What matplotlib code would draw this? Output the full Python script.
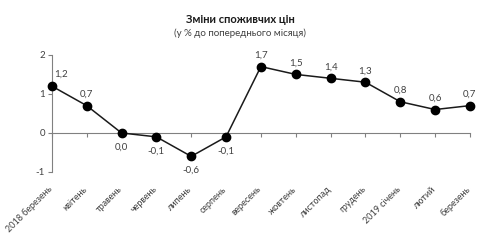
import matplotlib.pyplot as plt
from matplotlib.transforms import ScaledTranslation

months = ['2018 березень', 'квітень', 'травень', 'червень', 'липень', 'серпень',
          'вересень', 'жовтень', 'листопад', 'грудень', '2019 січень', 'лютий', 'березень']
values = [1.2, 0.7, 0.0, -0.1, -0.6, -0.1, 1.7, 1.5, 1.4, 1.3, 0.8, 0.6, 0.7]
labels = ['1,2', '0,7', '0,0', '-0,1', '-0,6', '-0,1', '1,7', '1,5', '1,4', '1,3', '0,8', '0,6', '0,7']
below = [False, False, True, True, True, True, False, False, False, False, False, False, False]

plt.rcParams['font.family'] = ['Lato', 'DejaVu Sans']
txt = '#404040'

fig = plt.figure(figsize=(4.8, 2.45), dpi=100)
ax = fig.add_axes([0.108, 0.298, 0.871, 0.478])

x = list(range(len(months)))
ax.plot(x, values, color='#1a1a1a', lw=1.1, marker='o', ms=6,
        markerfacecolor='black', markeredgecolor='black', clip_on=False, zorder=3)

for xi, v, lab, b in zip(x, values, labels, below):
    if b:
        ax.annotate(lab, (xi, v), xytext=(0, -7), textcoords='offset points',
                    ha='center', va='top', fontsize=7, color=txt)
    else:
        ax.annotate(lab, (xi, v), xytext=(2 if xi == 0 else 0, 5), textcoords='offset points',
                    ha='left' if xi == 0 else 'center', va='bottom', fontsize=7, color=txt)

ax.set_xlim(0, 12)
ax.set_ylim(-1, 2)
ax.set_yticks([-1, 0, 1, 2])
ax.set_yticklabels(['-1', '0', '1', '2'])
ax.tick_params(axis='y', direction='out', length=3, width=0.8, colors='#808080',
               labelcolor=txt, labelsize=7, pad=2)

for s in ['top', 'right', 'bottom']:
    ax.spines[s].set_visible(False)
ax.spines['left'].set_color('#808080')
ax.spines['left'].set_linewidth(0.8)

ax.set_xticks(x)
ax.set_xticklabels(months, rotation=45, ha='right', rotation_mode='anchor',
                   fontsize=6.5, color=txt)
ax.tick_params(axis='x', length=0, pad=4)
shift = ScaledTranslation(-4 / 100, -7 / 100, fig.dpi_scale_trans)
for t in ax.get_xticklabels():
    t.set_transform(t.get_transform() + shift)

sec = ax.secondary_xaxis(1/3)
sec.set_xticks(x)
sec.set_xticklabels([])
sec.tick_params(axis='x', direction='out', length=3, width=0.8, colors='#808080')
sec.spines['bottom'].set_color('#808080')
sec.spines['bottom'].set_linewidth(0.8)

fig.text(0.5, 0.922, 'Зміни споживчих цін', ha='center', va='center', fontsize=8,
         fontweight='bold', color='#1a1a1a')
fig.text(0.5, 0.865, '(у % до попереднього місяця)', ha='center', va='center',
         fontsize=7, color=txt)

fig.savefig('out.png', dpi=100)
